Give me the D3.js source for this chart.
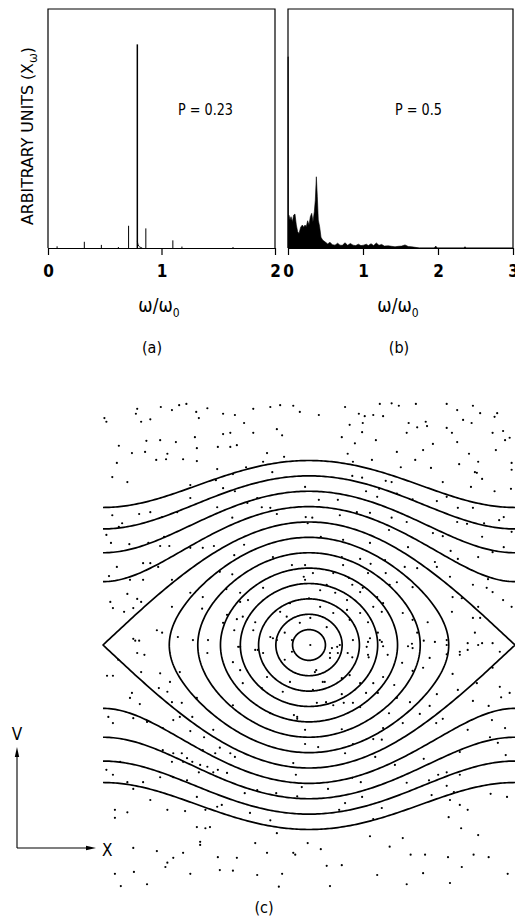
<!DOCTYPE html>
<html>
<head>
<meta charset="utf-8">
<script src="https://cdn.jsdelivr.net/npm/d3@7"></script>
<style>
  body { margin: 0; background: #fff; }
  svg { display: block; }
  text { font-family: "Liberation Sans Narrow", "DejaVu Sans Condensed", "Roboto Condensed", "Liberation Sans", sans-serif; fill: #000; }
</style>
</head>
<body>
<script>
// ---- spectrum (a), P = 0.23 : discrete lines
const freqA = [0.08, 0.32, 0.47, 0.62, 0.71, 0.787, 0.862, 1.10, 1.18, 1.63];
const ampA  = [0.007, 0.026, 0.013, 0.004, 0.093, 0.852, 0.082, 0.032, 0.006, 0.004];
// small foot at the base of the main line
const footFreqA = [0.787, 0.792, 0.805, 0.83];
const footAmpA  = [0.03, 0.012, 0.004, 0];

// ---- spectrum (b), P = 0.5 : broad band
const freqB = [0, 0.003, 0.006, 0.013, 0.027, 0.040, 0.058, 0.076, 0.093, 0.111, 0.129, 0.147, 0.169, 0.191,
  0.209, 0.227, 0.244, 0.262, 0.280, 0.298, 0.316, 0.333, 0.351, 0.364, 0.378, 0.391, 0.404, 0.422, 0.440,
  0.462, 0.493, 0.529, 0.560, 0.591, 0.627, 0.662, 0.693, 0.724, 0.760, 0.796, 0.831, 0.867, 0.902, 0.938,
  0.973, 1.009, 1.044, 1.071, 1.107, 1.142, 1.178, 1.213, 1.249, 1.284, 1.338, 1.382, 1.427, 1.471, 1.516,
  1.560, 1.604, 1.649, 1.693, 1.75, 1.95, 1.97, 1.99, 2.34, 2.36, 2.38, 3.0];
const ampB = [0.80, 0.80, 0.14, 0.138, 0.117, 0.131, 0.110, 0.138, 0.142, 0.096, 0.068, 0.061, 0.087, 0.096,
  0.087, 0.096, 0.089, 0.114, 0.096, 0.131, 0.145, 0.110, 0.152, 0.200, 0.298, 0.215, 0.117, 0.089, 0.045,
  0.033, 0.026, 0.017, 0.024, 0.014, 0.012, 0.020, 0.012, 0.011, 0.022, 0.011, 0.019, 0.012, 0.010, 0.016,
  0.010, 0.012, 0.016, 0.010, 0.018, 0.010, 0.021, 0.011, 0.015, 0.008, 0.009, 0.007, 0.005, 0.007, 0.008,
  0.013, 0.006, 0.005, 0.003, 0, 0, 0.008, 0, 0, 0.005, 0, 0];

const ticksA = [0, 1, 2];
const ticksB = [0, 1, 2, 3];
const labelA = "P = 0.23";
const labelB = "P = 0.5";

// ---- phase portrait (c): peak velocity of each orbit (separatrix = 2)
const closedV  = [0.25, 0.5, 0.75, 1.0, 1.25, 1.5, 1.75, 2.0];
const passingV = [2.25, 2.5, 2.75, 3.0];

// particles [phase x, velocity v]
const particles = [
  [-3.12,3.69],[-3.09,3.63],[-2.62,3.84],[-2.64,3.76],[-2.56,3.63],[-2.42,3.67],[-2.26,3.87],[-2.09,3.82],[-1.98,3.90],[-1.87,3.92],
  [-1.72,3.79],[-1.55,3.85],[-1.31,3.76],[-1.13,3.74],[-0.99,3.61],[-0.85,3.84],[-0.59,3.87],[-0.44,3.90],[-0.24,3.89],[-0.14,3.79],
  [-1.68,3.69],[-0.85,3.45],[-1.20,3.45],[-1.31,3.43],[-0.49,3.51],[-0.41,3.41],[-1.74,3.38],[-2.90,3.24],[-2.70,3.12],[-2.48,3.32],
  [-2.50,3.14],[-2.27,3.33],[-2.03,3.30],[-2.16,3.11],[-2.18,3.02],[-2.33,3.01],[-1.92,3.02],[-1.71,3.20],[-1.71,2.99],[-1.39,3.22],
  [-1.20,3.22],[-1.10,3.25],[-0.64,3.12],[-0.38,3.06],[-2.93,2.96],[-1.40,2.86],[-0.96,2.89],[-0.70,2.98],[-3.00,2.73],[-2.77,2.65],
  [-0.56,2.81],
  [-1.81,2.60],[-1.42,2.68],[-1.16,2.78],[-1.31,2.55],[-1.13,2.50],[-0.79,2.39],[-0.94,2.31],[-0.59,2.23],[-0.72,2.24],[-1.81,2.39],
  [-2.42,2.16],[-2.59,2.13],[-2.24,2.08],[-2.01,2.16],[-1.40,2.24],[-1.17,2.07],[-0.49,2.13],[-3.00,2.11],[-2.85,1.98],[-2.90,1.92],
  [-3.09,1.79],[-3.02,1.66],[-2.74,1.64],[-2.45,1.66],[-2.27,1.61],[-2.21,1.76],[-2.13,1.61],[-1.81,1.58],[-1.62,1.58],[-1.45,1.61],
  [-0.99,1.63],[-1.14,1.46],[-0.55,1.43],[-0.26,1.30],[-2.53,1.33],[-2.42,1.33],[-2.30,1.27],[-2.93,1.27],[-3.05,1.12],[-2.73,1.06],
  [-2.53,1.06],[-2.09,1.06],[-1.36,1.19],[-1.17,1.15],[-1.62,0.78],[-1.26,0.91],[-1.05,0.85],[-0.70,0.93],[-3.03,0.70],[-2.99,0.60],
  [-2.77,0.83],[-2.62,0.75],[-2.56,0.70],[-2.82,0.54],[-2.68,0.60],[-2.09,0.62],[-1.81,0.85],[-1.63,0.59],[-1.25,0.49],[-1.10,0.42],
  [-1.31,0.36],[-0.85,0.24],[-0.59,0.13],[-2.32,0.24],[-2.24,0.20],[-2.68,0.10],[-2.59,0.07],[-2.00,0.13],[-1.77,0.08],[-1.54,0.08],
  [-1.55,-0.13],[-1.05,-0.03],[-0.78,-0.08],[-0.49,0.08],[-0.37,0.20],
  [0.55,3.87],[0.15,3.74],[0.76,3.76],[0.85,3.72],[1.08,3.92],[1.26,3.93],[1.37,3.89],[1.63,3.92],[2.10,3.92],[2.26,3.82],
  [2.50,3.89],[2.87,3.77],[0.62,3.58],[0.81,3.46],[0.82,3.61],[0.98,3.74],[1.13,3.72],[0.50,3.38],[1.02,3.33],[0.70,3.28],
  [1.52,3.61],[1.65,3.54],[1.78,3.63],[1.80,3.56],[1.49,3.45],[1.89,3.27],[2.10,3.53],[2.18,3.45],[2.26,3.30],[2.35,3.66],
  [2.48,3.61],[2.61,3.77],[2.83,3.71],[2.80,3.45],[2.96,3.48],[2.99,3.33],[3.06,3.37],[2.85,3.17],[2.44,3.11],[0.59,3.11],
  [1.34,3.14],[1.74,3.17],[1.62,3.01],[0.96,3.01],[0.67,2.98],[1.40,2.89],[1.86,2.88],[2.29,2.94],[2.58,2.98],[2.56,2.80],
  [2.64,2.70],[3.09,2.96],[3.09,2.85],[2.83,2.50],[3.08,2.54],[2.04,2.65],[2.53,2.81],[2.47,2.57],
  [0.66,2.75],[0.81,2.72],[1.17,2.67],[1.26,2.65],[1.07,2.54],[1.34,2.46],[1.58,2.37],[0.87,2.50],[-0.06,2.57],[0.15,2.36],
  [0.44,2.36],[1.04,2.41],[1.95,2.34],[2.10,2.41],[2.27,2.23],[2.50,2.23],[2.67,1.98],[2.90,2.03],[2.97,2.08],[3.09,1.84],
  [-0.05,2.08],[0.05,2.07],[0.47,2.11],[0.73,2.16],[0.93,2.15],[1.26,2.07],[-0.02,1.98],[1.22,1.87],[1.49,2.00],[1.89,1.82],
  [2.04,1.77],[2.26,2.00],[2.41,1.97],[2.64,1.76],[2.80,1.51],[2.97,1.59],[2.58,1.43],[2.27,1.40],[2.16,1.53],[1.92,1.35],
  [1.51,1.59],[0.18,1.76],[0.52,1.71],[0.93,1.66],[0.50,1.43],[0.94,1.32],[1.16,1.38],[1.46,1.27],[1.65,1.25],[1.95,1.27],
  [2.15,1.11],[2.50,0.98],[2.71,0.93],[2.80,0.86],[2.73,1.07],[2.96,0.73],[3.09,0.62],[2.19,0.78],[2.33,0.76],[2.58,0.62],
  [2.50,0.44],[2.61,0.44],[2.53,0.20],[2.64,0.03],[2.91,-0.11],[2.30,-0.11],[2.18,0.54],[2.10,0.08],[1.81,0.37],[1.58,0.41],
  [1.65,0.20],[1.51,-0.02],[1.13,-0.02],[0.93,0.11],[1.08,0.08],[0.90,0.37],[1.11,0.54],[1.43,0.52],[0.78,0.52],[0.58,0.57],
  [0.37,0.52],[0.17,0.62],[0.00,0.76],[0.17,0.89],[0.27,0.98],[0.40,0.85],[0.66,0.98],[0.78,0.86],[1.04,0.78],[1.23,0.98],
  [1.34,1.02],[1.58,0.94],[0.06,1.17],[0.37,1.17],[0.61,1.09],[0.90,1.17],[1.17,1.17],[-0.06,1.30],[0.52,1.30],[0.78,1.40],
  [-0.08,1.11],[0.67,0.08],[0.88,-0.03],[0.35,-0.05],[0.02,0.00],[1.05,0.20],
  [-2.62,-0.13],[-2.51,-0.16],[-2.65,0.07],[-3.08,-0.50],[-2.99,-0.50],[-2.91,-0.24],[-2.56,-0.44],[-2.27,-0.46],[-2.12,-0.60],[-1.97,-0.44],
  [-2.73,-0.86],[-2.70,-0.78],[-2.58,-0.96],[-2.29,-0.70],[-2.16,-0.76],[-2.09,-0.93],[-1.94,-0.94],[-1.78,-1.17],[-1.71,-0.86],[-1.97,-1.17],
  [-3.06,-1.17],[-2.99,-1.27],[-2.68,-1.19],[-2.47,-1.25],[-2.23,-1.35],[-2.07,-1.22],[-1.81,-1.40],[-1.60,-1.50],[-1.46,-1.38],[-1.36,-1.67],
  [-1.43,-1.76],[-1.62,-1.71],[-1.94,-1.76],[-2.07,-1.76],[-2.23,-1.71],[-1.86,-1.84],[-1.66,-1.95],[-1.55,-1.98],[-1.39,-2.03],[-2.09,-1.90],
  [-1.92,-1.90],[-1.78,-1.90],[-1.20,-1.76],[-1.13,-1.82],[-2.88,-1.90],[-3.09,-2.03],[-2.99,-2.11],[-2.77,-2.23],[-2.68,-2.34],[-2.53,-2.23],
  [-2.27,-2.15],[-2.07,-2.15],[-1.86,-2.20],[-1.68,-2.07],[-1.46,-2.07],[-1.25,-2.08],[-0.98,-2.41],[-0.79,-2.36],[-0.50,-2.41],[-1.71,-2.47],
  [-2.42,-2.52],[-2.16,-2.68],[-1.89,-2.70],[-1.58,-2.68],[-1.40,-2.63],[-1.33,-2.60],[-0.90,-2.73],[-0.59,-2.85],[-2.96,-2.68],[-2.77,-2.72],
  [-2.96,-2.81],[-1.71,-2.96],[-1.58,-2.98],[-1.51,-2.96],[-0.49,-3.06],[-1.66,-3.20],[-1.66,-3.25],[-0.82,-3.22],[-2.68,-3.30],[-2.32,-3.35],
  [-2.07,-3.46],[-1.92,-3.38],[-1.39,-3.45],[-1.10,-3.46],[-0.64,-3.38],[-0.21,-3.41],[-2.16,-3.54],[-2.19,-3.61],[-2.67,-3.69],[-2.96,-3.72],
  [-1.81,-3.72],[-1.36,-3.66],[-1.16,-3.67],[-0.79,-3.74],[-0.41,-3.72],[-2.87,-3.92],[-2.47,-3.89],[-0.46,-3.93],
  [0.43,-0.03],[0.90,0.05],[1.57,0.02],[1.75,0.07],[1.92,0.05],[2.10,0.00],[2.42,0.03],[2.58,0.00],[2.80,0.03],[0.44,-0.13],
  [0.59,-0.13],[0.32,-0.13],[0.90,-0.16],[1.20,-0.16],[1.58,-0.05],[2.10,-0.15],[2.30,-0.16],[1.84,-0.21],[2.42,-0.08],[0.09,-0.44],
  [0.24,-0.60],[0.62,-0.49],[0.66,-0.20],[0.78,-0.62],[0.98,-0.62],[1.13,-0.52],[1.30,-0.65],[1.42,-0.29],[1.58,-0.42],[1.74,-0.37],
  [2.19,-0.47],[2.56,-0.62],[2.80,-0.37],[2.91,-0.68],[3.06,-0.78],[2.93,-0.85],[2.74,-0.99],[2.50,-0.91],[2.27,-0.73],[1.95,-0.80],
  [1.84,-0.99],[1.69,-1.12],[1.54,-0.93],[1.34,-0.86],[1.22,-1.11],[1.05,-0.78],[0.87,-0.78],[0.50,-0.80],[0.53,-0.94],[0.67,-0.94],
  [0.78,-1.01],[0.12,-0.94],[0.26,-0.93],[0.37,-0.98],[-0.23,-1.14],[-0.18,-1.20],[-0.06,-1.38],[0.50,-1.37],[1.13,-1.35],[1.43,-1.27],
  [1.94,-1.27],[2.04,-1.20],[2.42,-1.38],[2.79,-1.22],[2.99,-1.35],[2.76,-1.50],[0.98,-1.53],[1.11,-1.54],[0.67,-1.61],[0.14,-1.66],
  [-0.06,-1.61],[0.55,-1.76],[1.75,-1.85],[2.30,-1.74],[2.88,-1.59],[3.00,-1.79],[-0.24,-1.92],[-0.20,-2.11],[1.01,-1.82],[1.31,-1.95],
  [1.49,-2.24],[1.83,-2.20],[1.97,-2.11],[2.10,-2.07],[2.30,-2.11],[2.10,-2.29],[2.21,-2.39],[2.15,-2.52],[2.30,-2.60],[2.42,-2.68],
  [1.87,-2.44],[2.77,-2.42],[3.02,-2.47],[0.29,-2.34],[0.66,-2.16],[0.79,-2.23],[-0.11,-2.31],[-0.18,-2.46],[0.55,-2.57],[0.81,-2.47],
  [0.46,-2.68],[1.11,-2.65],[0.98,-2.83],[2.13,-2.80],[2.32,-2.98],[0.93,-3.11],[1.43,-3.14],[1.23,-3.28],[2.58,-3.09],[-0.02,-3.22],
  [-0.24,-3.38],[0.18,-3.32],[1.55,-3.41],[1.77,-3.41],[2.12,-3.45],[2.51,-3.41],[2.74,-3.45],[0.27,-3.59],[0.50,-3.58],[1.04,-3.74],
  [1.74,-3.71],[2.33,-3.61],[3.03,-3.72],[0.32,-3.92],[1.49,-3.89],[2.15,-3.87],
  [-0.26,0.08],[-0.26,-0.11],[0.47,0.00],[0.32,-0.21],[0.11,-0.41],[-0.37,-0.24],[-0.55,0.11],[-0.70,-0.13],[-0.82,-0.08],[-1.08,-0.03],
  [-1.14,0.24],[-1.01,0.46],[-0.82,0.37],[-0.34,0.46],[-0.14,0.36],[0.02,0.44],[0.27,0.29],[0.62,0.41],[1.11,0.05],[0.91,-0.20],
  [0.50,-0.54],[0.21,-0.60],[-0.29,-0.60],[-0.64,-0.52],[-0.72,-0.70],[-1.05,-0.41],[-1.16,-0.28],[-1.01,-0.62],[-0.40,-0.76],[0.06,-0.73],
  [-0.18,-1.17],[-0.59,-1.11],[-1.16,-0.98],[0.58,0.73],[0.82,0.93],[1.13,0.68],[0.98,0.62],[-0.06,1.06],[-0.29,0.68],[-0.44,0.54],
  [-0.93,0.73],[-1.05,0.70]
];

const W = 515, H = 919;
const svg = d3.select("body").append("svg").attr("width", W).attr("height", H);

// ---------- spectra ----------
const yAmp = d3.scaleLinear().domain([0, 1]).range([248, 9]);
const xA = d3.scaleLinear().domain([0, 2]).range([48, 275]);
const xB = d3.scaleLinear().domain([0, 3]).range([288, 513]);

function frame(x) {
  const [x0, x1] = x.range();
  svg.append("path")
    .attr("d", `M${x0},${yAmp(0)}V${yAmp(1)}H${x1}V${yAmp(0)}`)
    .attr("fill", "none").attr("stroke", "#000").attr("stroke-width", 1.2);
}

function axis(x, ticks) {
  const g = svg.append("g")
    .attr("transform", `translate(0,${yAmp(0)})`)
    .call(d3.axisBottom(x).tickValues(ticks).tickFormat(d3.format("d"))
      .tickSize(7).tickSizeOuter(0).tickPadding(10));
  g.attr("font-family", null).attr("font-size", 17);
  g.select(".domain").attr("stroke", "#000").attr("stroke-width", 1.2);
  g.selectAll(".tick line").attr("stroke", "#000").attr("stroke-width", 1.2);
  g.selectAll(".tick text").attr("font-weight", "bold");
}

function omegaLabel(cx) {
  const t = svg.append("text").attr("x", cx).attr("y", 312)
    .attr("text-anchor", "middle").attr("font-size", 19);
  t.append("tspan").text("\u03c9/\u03c9");
  t.append("tspan").attr("font-size", 12).attr("dy", 5).text("0");
}

// (a)
frame(xA);
svg.append("g").selectAll("line")
  .data(d3.zip(freqA, ampA)).join("line")
  .attr("x1", d => xA(d[0])).attr("x2", d => xA(d[0]))
  .attr("y1", yAmp(0)).attr("y2", d => yAmp(d[1]))
  .attr("stroke", "#000").attr("stroke-width", d => d[1] > 0.5 ? 1.5 : 1);
svg.append("path")
  .datum(d3.zip(footFreqA, footAmpA))
  .attr("d", d3.line().x(d => xA(d[0])).y(d => yAmp(d[1])).curve(d3.curveBasis))
  .attr("fill", "none").attr("stroke", "#000").attr("stroke-width", 1);
axis(xA, ticksA);
svg.append("text").attr("x", 178).attr("y", 115).attr("font-size", 16)
  .attr("textLength", 55).attr("lengthAdjust", "spacingAndGlyphs").text(labelA);

const yl = svg.append("text")
  .attr("transform", "translate(33,136) rotate(-90)")
  .attr("text-anchor", "middle").attr("font-size", 16)
  .attr("textLength", 178).attr("lengthAdjust", "spacingAndGlyphs");
yl.append("tspan").text("ARBITRARY UNITS (X");
yl.append("tspan").attr("font-size", 12).attr("dy", 4).text("\u03c9");
yl.append("tspan").attr("dy", -4).text(")");

omegaLabel(159);
svg.append("text").attr("x", 152).attr("y", 353).attr("text-anchor", "middle")
  .attr("font-size", 16).text("(a)");

// (b)
frame(xB);
svg.append("path")
  .datum(d3.zip(freqB, ampB))
  .attr("d", d3.area().x(d => xB(d[0])).y0(yAmp(0)).y1(d => yAmp(d[1])))
  .attr("fill", "#000").attr("stroke", "#000").attr("stroke-width", 0.6);
axis(xB, ticksB);
svg.append("text").attr("x", 395).attr("y", 115).attr("font-size", 16)
  .attr("textLength", 47).attr("lengthAdjust", "spacingAndGlyphs").text(labelB);
omegaLabel(398);
svg.append("text").attr("x", 399).attr("y", 353).attr("text-anchor", "middle")
  .attr("font-size", 16).text("(b)");

// ---------- phase portrait (c) ----------
const xP = d3.scaleLinear().domain([-Math.PI, Math.PI]).range([103, 515]);
const vP = d3.scaleLinear().domain([-4, 4]).range([891, 399]);
const orbitLine = d3.line().x(d => xP(d[0])).y(d => vP(d[1]));
const gOrb = svg.append("g").attr("fill", "none").attr("stroke", "#000")
  .attr("stroke-width", 1.7).attr("stroke-linejoin", "round");

// trapped orbits and separatrix (pendulum, k = vm/2)
const phis = d3.range(0, 361).map(i => i * Math.PI / 180);
closedV.forEach(vm => {
  const k = vm / 2;
  const pts = phis.map(p => [2 * Math.asin(Math.min(1, k * Math.sin(p))), 2 * k * Math.cos(p)]);
  gOrb.append("path").attr("d", orbitLine(pts) + "Z");
});

// passing orbits above and below
const xs = d3.range(0, 201).map(i => -Math.PI + i * Math.PI / 100);
passingV.forEach(vm => {
  [1, -1].forEach(s => {
    const pts = xs.map(x => [x, s * Math.sqrt(vm * vm - 4 * Math.sin(x / 2) ** 2)]);
    gOrb.append("path").attr("d", orbitLine(pts));
  });
});

svg.append("g").selectAll("circle")
  .data(particles).join("circle")
  .attr("cx", d => xP(d[0])).attr("cy", d => vP(d[1]))
  .attr("r", 1.1).attr("fill", "#000");

// V / X direction arrows
const ax = svg.append("g").attr("stroke", "#000").attr("stroke-width", 1.1);
ax.append("path").attr("d", "M17,848V755M17,848H88").attr("fill", "none");
ax.append("path").attr("d", "M17,747L14.8,757L19.2,757Z").attr("fill", "#000").attr("stroke", "none");
ax.append("path").attr("d", "M96,848L86,845.8L86,850.2Z").attr("fill", "#000").attr("stroke", "none");
svg.append("text").attr("x", 17).attr("y", 740).attr("text-anchor", "middle")
  .attr("font-size", 17).text("V");
svg.append("text").attr("x", 102).attr("y", 856).attr("font-size", 17).text("X");
svg.append("text").attr("x", 264).attr("y", 913).attr("text-anchor", "middle")
  .attr("font-size", 16).text("(c)");
</script>
</body>
</html>
